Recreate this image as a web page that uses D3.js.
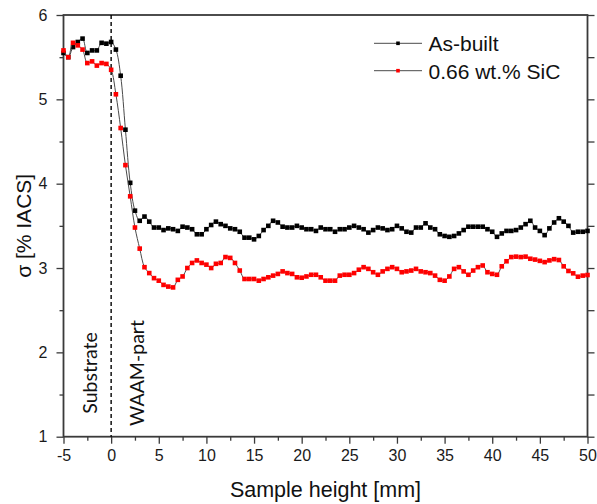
<!DOCTYPE html>
<html><head><meta charset="utf-8">
<script src="https://cdn.jsdelivr.net/npm/d3@7/dist/d3.min.js"></script>
<style>body{margin:0;background:#fff}svg{display:block}</style>
</head><body><svg id="c" width="597" height="504"></svg>
<script>
const heights = [-5,-4.5,-4,-3.5,-3,-2.5,-2,-1.5,-1,-0.5,0,0.5,1,1.5,2,2.5,3,3.5,4,4.5,5,5.5,6,6.5,7,7.5,8,8.5,9,9.5,
10,10.5,11,11.5,12,12.5,13,13.5,14,14.5,15,15.5,16,16.5,17,17.5,18,18.5,19,19.5,20,20.5,21,21.5,22,22.5,23,23.5,24,24.5,
25,25.5,26,26.5,27,27.5,28,28.5,29,29.5,30,30.5,31,31.5,32,32.5,33,33.5,34,34.5,35,35.5,36,36.5,37,37.5,38,38.5,39,39.5,
40,40.5,41,41.5,42,42.5,43,43.5,44,44.5,45,45.5,46,46.5,47,47.5,48,48.5,49,49.5,50];
const asBuilt = [5.55,5.50,5.62,5.68,5.72,5.55,5.58,5.58,5.67,5.66,5.68,5.59,5.28,4.64,4.01,3.68,3.56,3.61,3.55,3.48,3.48,3.45,3.47,3.46,3.44,3.49,3.48,3.46,3.40,3.40,
3.46,3.51,3.55,3.52,3.50,3.47,3.46,3.43,3.36,3.36,3.34,3.38,3.45,3.50,3.56,3.54,3.49,3.48,3.48,3.50,3.48,3.46,3.46,3.44,3.48,3.46,3.46,3.43,3.46,3.46,
3.48,3.50,3.48,3.46,3.42,3.45,3.48,3.47,3.45,3.46,3.50,3.47,3.43,3.42,3.48,3.48,3.53,3.48,3.46,3.40,3.38,3.37,3.38,3.41,3.45,3.49,3.49,3.49,3.49,3.46,
3.43,3.37,3.41,3.44,3.44,3.45,3.48,3.52,3.56,3.48,3.44,3.39,3.47,3.54,3.59,3.55,3.50,3.42,3.43,3.43,3.44];
const sic = [5.58,5.50,5.67,5.64,5.59,5.43,5.45,5.40,5.43,5.42,5.35,5.06,4.66,4.22,3.85,3.48,3.23,3.01,2.94,2.88,2.85,2.80,2.78,2.77,2.86,2.90,3.00,3.06,3.09,3.06,
3.04,3.00,3.05,3.06,3.13,3.12,3.06,2.97,2.87,2.87,2.87,2.85,2.87,2.89,2.91,2.93,2.96,2.94,2.93,2.89,2.885,2.90,2.92,2.92,2.89,2.85,2.85,2.85,2.91,2.92,
2.92,2.94,2.98,3.01,2.99,2.95,2.92,2.96,2.99,3.01,2.99,2.95,2.96,2.97,2.99,2.96,2.95,2.94,2.91,2.86,2.85,2.90,2.99,3.01,2.96,2.92,2.97,3.01,3.03,2.95,
2.93,2.92,3.02,3.08,3.13,3.135,3.13,3.135,3.11,3.10,3.085,3.07,3.09,3.105,3.095,3.02,2.965,2.937,2.897,2.91,2.917];
const seriesNames = ["As-built", "0.66 wt.% SiC"];
const seriesColors = ["#000000", "#ff0000"];
const xMajor = [-5,0,5,10,15,20,25,30,35,40,45,50];
const xMinor = [-2.5,2.5,7.5,12.5,17.5,22.5,27.5,32.5,37.5,42.5,47.5];
const yMajor = [1,2,3,4,5,6];
const yMinor = [1.5,2.5,3.5,4.5,5.5];
const regionLabels = ["Substrate", "WAAM-part"];

const svg = d3.select("#c");
const L = 63.5, R = 587.5, T = 15, B = 436.7;
const x = d3.scaleLinear().domain([-5, 50]).range([L, R]);
const y = d3.scaleLinear().domain([1, 6]).range([B, T]);
const axisColor = "#3a3a3a";
const tickFont = "'Liberation Sans', Arial, sans-serif";
const plain = d => String(d);

function styleAxis(g) {
  g.select(".domain").remove();
  g.selectAll(".tick line").attr("stroke", axisColor).attr("stroke-width", 1.3);
  g.selectAll(".tick text").attr("fill", "#1a1a1a").style("font-family", tickFont).style("font-size", "16px");
}
// bottom axis
svg.append("g").attr("transform", `translate(0,${B})`)
  .call(d3.axisBottom(x).tickValues(xMajor).tickSize(7).tickPadding(6).tickFormat(plain)).call(styleAxis);
svg.append("g").attr("transform", `translate(0,${B})`)
  .call(d3.axisBottom(x).tickValues(xMinor).tickSize(4).tickFormat("")).call(styleAxis);
// left axis
svg.append("g").attr("transform", `translate(${L},0)`)
  .call(d3.axisLeft(y).tickValues(yMajor).tickSize(7).tickPadding(9).tickFormat(plain)).call(styleAxis);
svg.append("g").attr("transform", `translate(${L},0)`)
  .call(d3.axisLeft(y).tickValues(yMinor).tickSize(4).tickFormat("")).call(styleAxis);
// right axis
svg.append("g").attr("transform", `translate(${R},0)`)
  .call(d3.axisRight(y).tickValues(yMajor.concat(yMinor)).tickSize(7).tickFormat("")).call(styleAxis);

// frame
svg.append("rect").attr("x", L).attr("y", T).attr("width", R - L).attr("height", B - T)
  .attr("fill", "none").attr("stroke", axisColor).attr("stroke-width", 1.8);

// dashed divider
svg.append("line").attr("x1", x(0)).attr("x2", x(0)).attr("y1", T).attr("y2", B)
  .attr("stroke", "#000").attr("stroke-width", 1.4).attr("stroke-dasharray", "4,3");

// series
const datasets = [asBuilt, sic];
const line = d3.line().x((d, i) => x(heights[i])).y(d => y(d)).curve(d3.curveCatmullRom);
datasets.forEach((vals, si) => {
  const g = svg.append("g");
  g.append("path").datum(vals).attr("d", line).attr("fill", "none").attr("stroke", "#4a4a4a").attr("stroke-width", 1);
  g.selectAll("rect").data(vals).join("rect")
    .attr("x", (d, i) => x(heights[i]) - 2.3).attr("y", d => y(d) - 2.3)
    .attr("width", 4.6).attr("height", 4.6).attr("fill", seriesColors[si]);
});

// region labels
const lblFont = "Lato, 'Open Sans', sans-serif";
svg.append("text").attr("transform", `translate(96.5,373) rotate(-90)`).attr("text-anchor", "middle")
  .style("font-family", lblFont).style("font-size", "19.5px").attr("fill", "#111").text(regionLabels[0]);
svg.append("text").attr("transform", `translate(144,373) rotate(-90)`).attr("text-anchor", "middle")
  .style("font-family", lblFont).style("font-size", "19.5px").attr("fill", "#111").text(regionLabels[1]);

// legend
const legY = [43.3, 70.7];
seriesNames.forEach((name, i) => {
  svg.append("line").attr("x1", 374).attr("x2", 422).attr("y1", legY[i]).attr("y2", legY[i])
    .attr("stroke", "#4a4a4a").attr("stroke-width", 1);
  svg.append("rect").attr("x", 398 - 1.8).attr("y", legY[i] - 1.8).attr("width", 3.6).attr("height", 3.6).attr("fill", seriesColors[i]);
  svg.append("text").attr("x", 428.5).attr("y", legY[i] + 8).style("font-family", tickFont).style("font-size", "21px")
    .attr("fill", "#111").text(name);
});

// axis titles
svg.append("text").attr("x", (L + R) / 2).attr("y", 496.5).attr("text-anchor", "middle")
  .style("font-family", tickFont).style("font-size", "21.5px").attr("fill", "#111").text("Sample height [mm]");
svg.append("text").attr("transform", `translate(31,${(T + B) / 2}) rotate(-90)`).attr("text-anchor", "middle")
  .style("font-family", tickFont).style("font-size", "21px").attr("fill", "#111").text("σ [% IACS]");
</script></body></html>
